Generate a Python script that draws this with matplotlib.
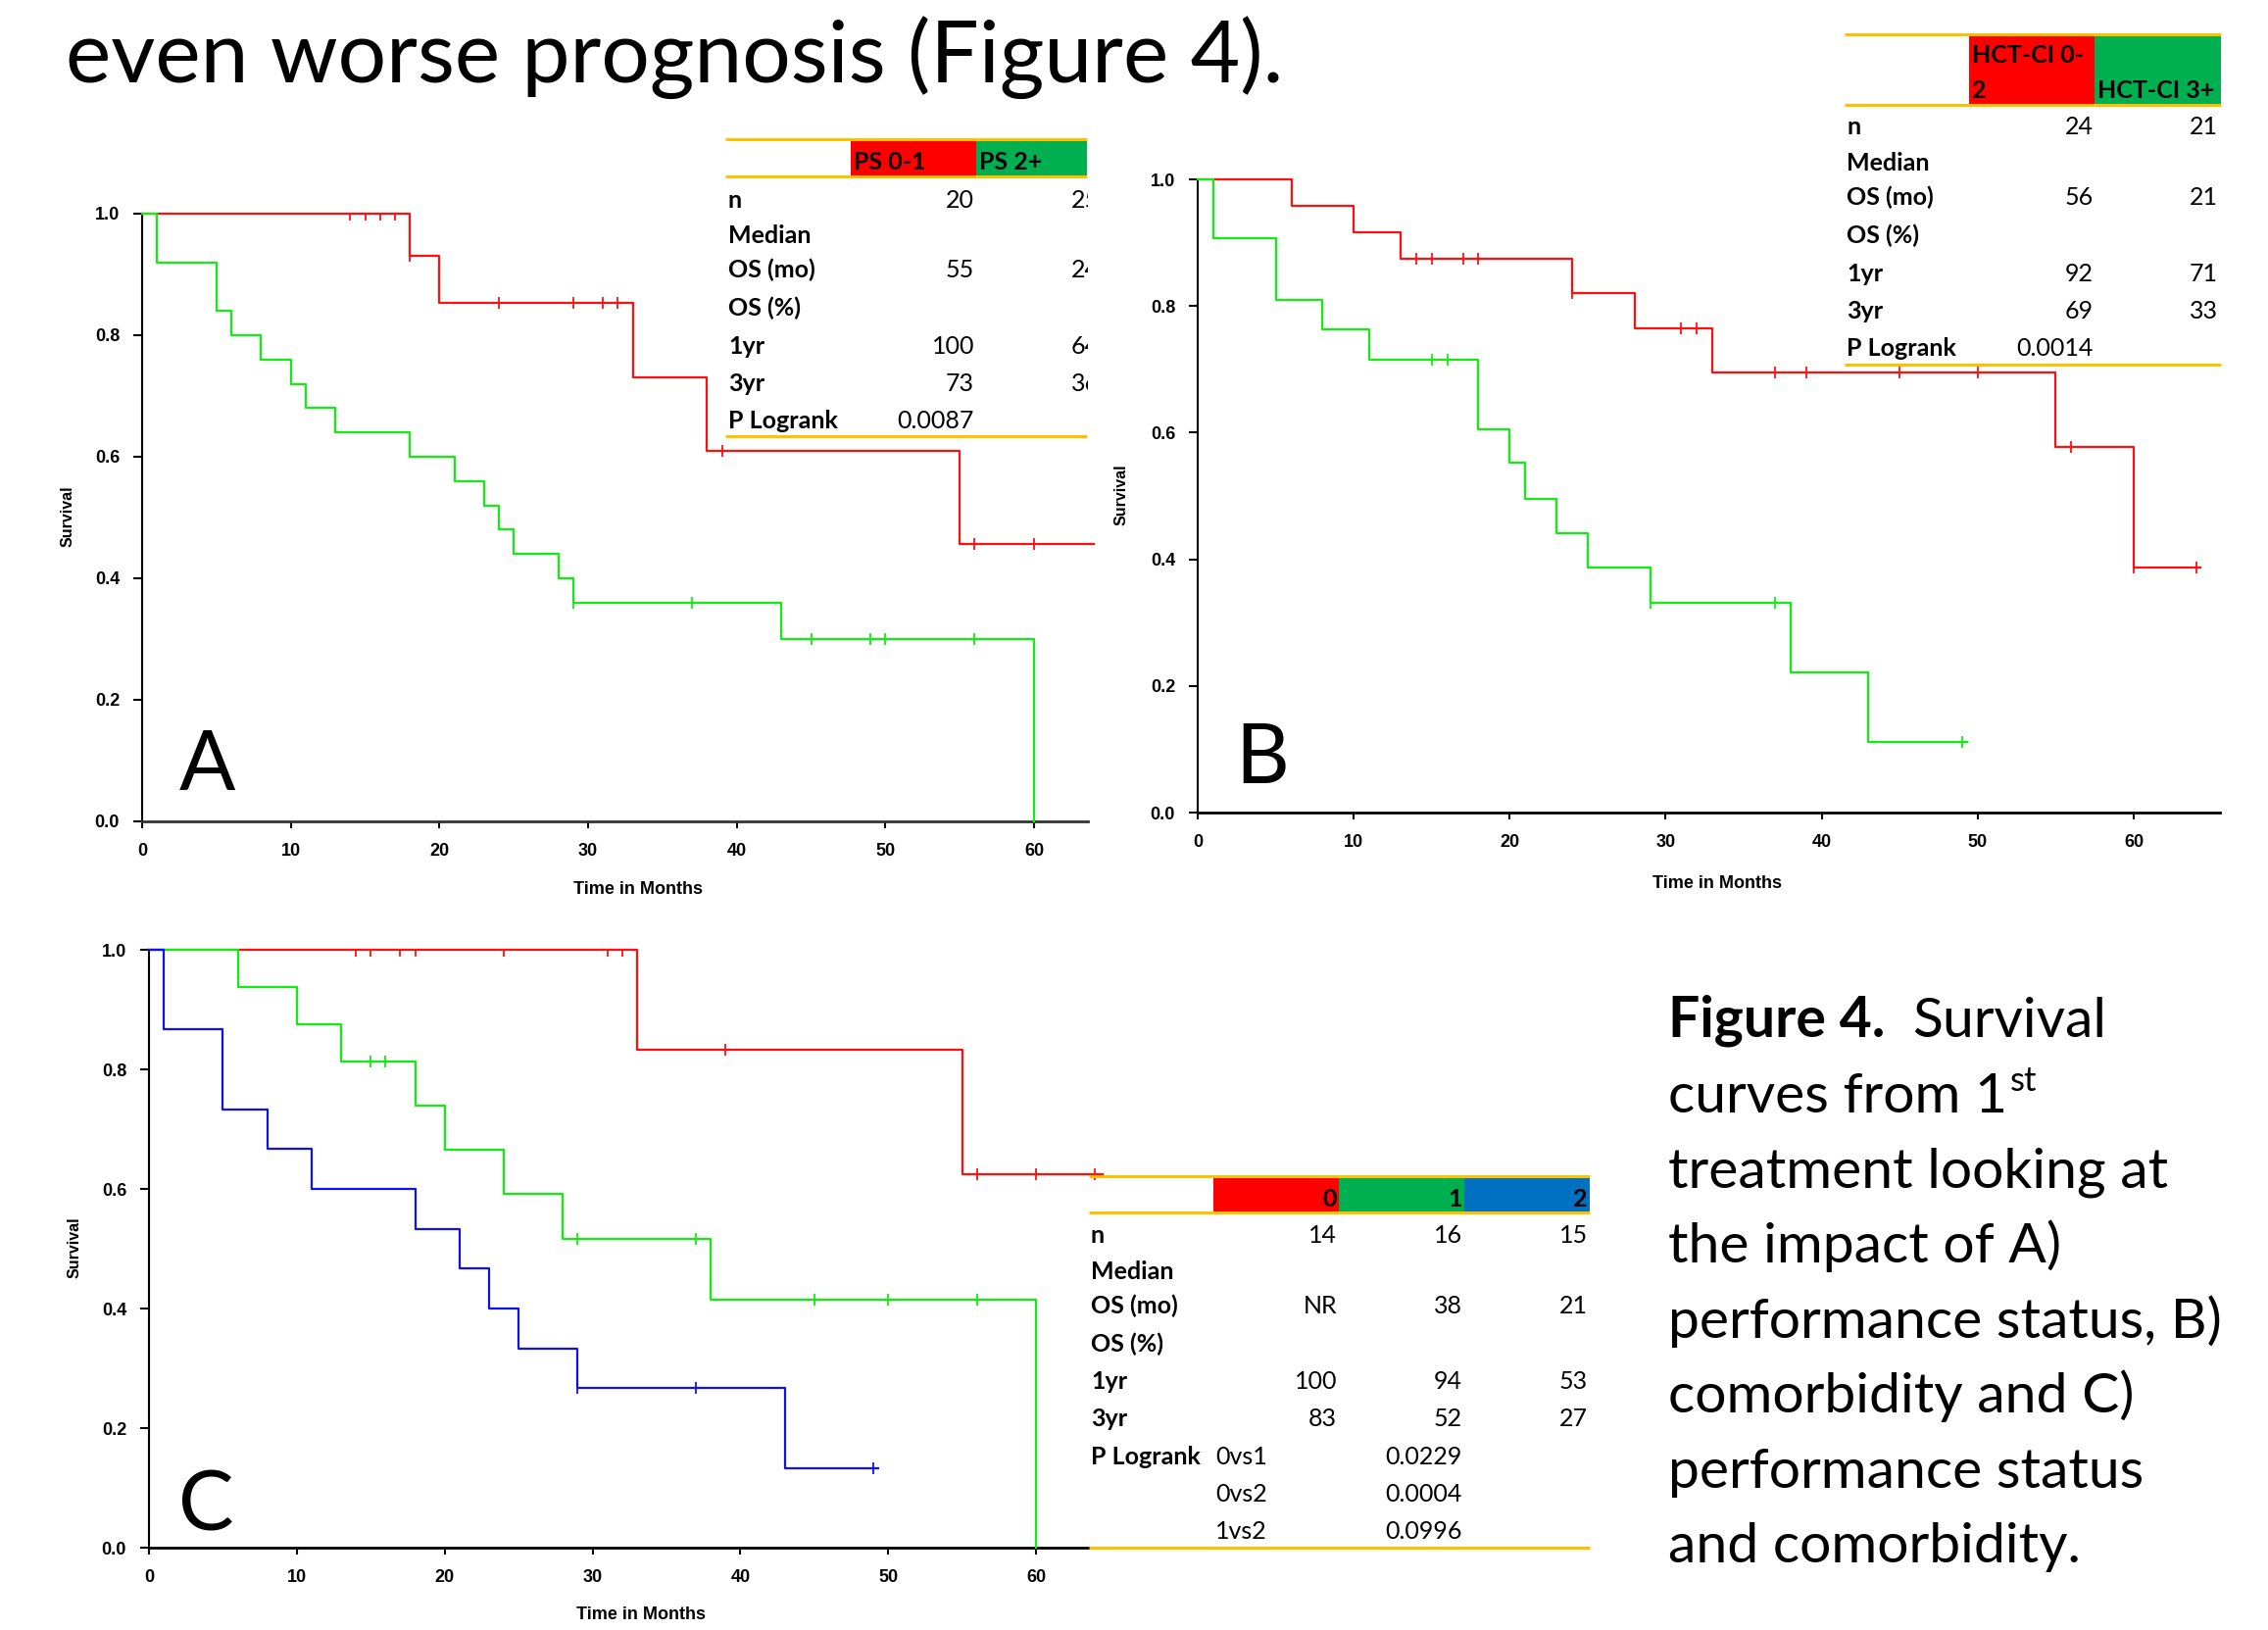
import numpy as np
import matplotlib
matplotlib.use("Agg")
import matplotlib.pyplot as plt
from matplotlib.patches import Rectangle

# ---- data (months, survival fraction) ----
# A: performance status
a_ps01_t = [0, 18, 20, 33, 38, 55]
a_ps01_s = [1.0, 0.93, 0.853, 0.731, 0.609, 0.456]
a_ps01_cens = [14, 15, 16, 17, 18, 24, 29, 31, 32, 39, 56, 60]
a_ps01_end = 64

a_ps2_t = [0, 1, 5, 6, 8, 10, 11, 13, 18, 21, 23, 24, 25, 28, 29, 43, 60]
a_ps2_s = [1.0, 0.92, 0.84, 0.80, 0.76, 0.72, 0.68, 0.64, 0.60, 0.56, 0.52,
           0.48, 0.44, 0.40, 0.36, 0.30, 0.0]
a_ps2_cens = [29, 37, 45, 49, 50, 56]
a_ps2_end = 60

# B: comorbidity
b_hct02_t = [0, 6, 10, 13, 24, 28, 33, 55, 60]
b_hct02_s = [1.0, 0.958, 0.917, 0.875, 0.821, 0.764, 0.695, 0.578, 0.387]
b_hct02_cens = [14, 15, 17, 18, 24, 31, 32, 37, 39, 45, 50, 56, 60, 64]
b_hct02_end = 64.3

b_hct3_t = [0, 1, 5, 8, 11, 18, 20, 21, 23, 25, 29, 38, 43]
b_hct3_s = [1.0, 0.907, 0.810, 0.763, 0.715, 0.605, 0.552, 0.496, 0.441,
            0.387, 0.331, 0.222, 0.112]
b_hct3_cens = [15, 16, 29, 37, 49]
b_hct3_end = 49.3

# C: combined score 0 / 1 / 2
c0_t = [0, 33, 55]
c0_s = [1.0, 0.833, 0.625]
c0_cens = [14, 15, 17, 18, 24, 31, 32, 39, 56, 60, 64]
c0_end = 64.5

c1_t = [0, 6, 10, 13, 18, 20, 24, 28, 38, 60]
c1_s = [1.0, 0.938, 0.875, 0.813, 0.739, 0.665, 0.591, 0.517, 0.415, 0.0]
c1_cens = [15, 16, 29, 37, 45, 50, 56]
c1_end = 60

c2_t = [0, 1, 5, 8, 11, 18, 21, 23, 25, 29, 43]
c2_s = [1.0, 0.867, 0.733, 0.667, 0.600, 0.533, 0.467, 0.400, 0.333, 0.267, 0.133]
c2_cens = [29, 37, 49]
c2_end = 49.3

# tables
row_labels = ["n", "Median", "OS (mo)", "OS (%)", "1yr", "3yr", "P Logrank"]
tabA_head = ["PS 0-1", "PS 2+"]
tabA_col1 = ["20", "", "55", "", "100", "73", "0.0087"]
tabA_col2 = ["25", "", "24", "", "64", "36", ""]
tabB_col1 = ["24", "", "56", "", "92", "69", "0.0014"]
tabB_col2 = ["21", "", "21", "", "71", "33", ""]
tabC_head = ["0", "1", "2"]
tabC_vals = [["14", "16", "15"], ["", "", ""], ["NR", "38", "21"], ["", "", ""],
             ["100", "94", "53"], ["83", "52", "27"]]
tabC_pairs = ["0vs1", "0vs2", "1vs2"]
tabC_p = ["0.0229", "0.0004", "0.0996"]

RED = "#ff1010"
GRN = "#10ee10"
BLU = "#1010ee"
T_RED = "#ff0000"
T_GRN = "#00b050"
T_BLU = "#0070c0"
YEL = "#ffc000"

W, H = 2314, 1663
fig = plt.figure(figsize=(W / 100, H / 100), dpi=100)


def panel(x0, x60, y1, y0, xmax, xcol="black"):
    ppm = (x60 - x0) / 60.0
    xr = x0 + xmax * ppm
    ax = fig.add_axes([x0 / W, 1 - y0 / H, (xr - x0) / W, (y0 - y1) / H])
    ax.set_xlim(0, xmax)
    ax.set_ylim(0, 1)
    ax.patch.set_visible(False)
    for sp in ["top", "right"]:
        ax.spines[sp].set_visible(False)
    ax.spines["left"].set_linewidth(1.5)
    ax.spines["bottom"].set_linewidth(2.0)
    ax.spines["bottom"].set_color(xcol)
    ax.set_xticks(range(0, 61, 10))
    ax.set_yticks([0, 0.2, 0.4, 0.6, 0.8, 1.0])
    ax.set_yticklabels(["0.0", "0.2", "0.4", "0.6", "0.8", "1.0"])
    ax.tick_params(axis="x", direction="out", length=5, width=1.5, pad=11)
    ax.tick_params(axis="y", direction="out", length=6.5, width=1.5, pad=10)
    for lab in ax.get_xticklabels() + ax.get_yticklabels():
        lab.set_fontproperties(matplotlib.font_manager.FontProperties(
            family="Liberation Sans", weight="bold", size=13))
    return ax


def km(ax, t, s, end, cens, color):
    tt = list(t) + [end]
    ss = list(s) + [s[-1]]
    ax.step(tt, ss, where="post", color=color, lw=1.6, clip_on=False, zorder=3)
    t_arr = np.array(t)
    cy = [s[np.searchsorted(t_arr, c, side="right") - 1] for c in cens]
    top = [(c, y) for c, y in zip(cens, cy) if y >= 0.999]
    mid = [(c, y) for c, y in zip(cens, cy) if y < 0.999]
    if mid:
        ax.plot([p[0] for p in mid], [p[1] for p in mid], ls="none", marker="|",
                ms=9, mew=1.3, color=color, clip_on=False, zorder=4)
    if top:
        ax.plot([p[0] for p in top], [p[1] for p in top], ls="none", marker=3,
                ms=5, mew=1.3, color=color, clip_on=False, zorder=4)


axA = panel(145, 1055, 218, 838, 63.6, xcol="#333333")
km(axA, a_ps01_t, a_ps01_s, a_ps01_end, a_ps01_cens, RED)
km(axA, a_ps2_t, a_ps2_s, a_ps2_end, a_ps2_cens, GRN)

axB = panel(1222, 2177, 183, 829, 65.5)
km(axB, b_hct02_t, b_hct02_s, b_hct02_end, b_hct02_cens, RED)
km(axB, b_hct3_t, b_hct3_s, b_hct3_end, b_hct3_cens, GRN)

axC = panel(152, 1057, 969, 1579, 63.6)
km(axC, c0_t, c0_s, c0_end, c0_cens, RED)
km(axC, c1_t, c1_s, c1_end, c1_cens, GRN)
km(axC, c2_t, c2_s, c2_end, c2_cens, BLU)

# overlay in pixel coordinates (y measured from the top)
ov = fig.add_axes([0, 0, 1, 1])
ov.set_xlim(0, W)
ov.set_ylim(0, H)
ov.axis("off")


def Y(y):
    return H - y


LATO = ["Lato", "DejaVu Sans"]
AX_LAB = ["Liberation Sans", "DejaVu Sans"]

# axis titles
for (sx, sy), (tx, ty) in [((69, 527), (651, 908)), ((1144, 505), (1752, 902)),
                           ((76, 1273), (654, 1647))]:
    ov.text(sx, Y(sy), "Survival", rotation=90, ha="center", va="center",
            family=AX_LAB, fontweight="bold", fontsize=11.5)
    ov.text(tx, Y(ty), "Time in Months", ha="center", va="center",
            family=AX_LAB, fontweight="bold", fontsize=13)

# panel letters
for lx, ly, lt in [(211, 782, "A"), (1288, 775, "B"), (210, 1538, "C")]:
    ov.text(lx, Y(ly), lt, ha="center", va="center", family=LATO, fontsize=61)

# title
ov.text(67, Y(84), "even worse prognosis (Figure 4).", ha="left", va="baseline",
        family=LATO, fontsize=63)

TS = 18


def hline(x0, x1, y):
    ov.plot([x0, x1], [Y(y), Y(y)], color=YEL, lw=2.2, solid_capstyle="butt", zorder=5)


def band(x0, x1, y0, y1, c, z=4):
    ov.add_patch(Rectangle((x0, Y(y1)), x1 - x0, y1 - y0, facecolor=c, lw=0, zorder=z))


def txt(x, y, s, ha="left", bold=False):
    return ov.text(x, Y(y), s, ha=ha, va="baseline", family=LATO, fontsize=TS,
                   fontweight="bold" if bold else "normal", zorder=6)


# ---- table A (its right column is cut off by the slide edge of the panel) ----
band(868, 996, 142, 180, T_RED)
band(996, 1109, 142, 180, T_GRN)
hline(740, 1109, 142)
hline(740, 1109, 180)
hline(740, 1109, 445)
txt(871, 173, tabA_head[0], bold=True)
txt(999, 173, tabA_head[1], bold=True)
rowsA = [212, 248, 283, 322, 361, 399, 437]
for i, lab in enumerate(row_labels):
    txt(743, rowsA[i], lab, bold=True)
    if tabA_col1[i]:
        txt(994, rowsA[i], tabA_col1[i], ha="right")
    if tabA_col2[i]:
        txt(1122, rowsA[i], tabA_col2[i], ha="right")
# white mask hiding the cut-off part of the last column
band(1110, 1140, 190, 450, "white", z=7)

# ---- table B ----
band(2009, 2137, 35, 107, T_RED)
band(2137, 2266, 35, 107, T_GRN)
hline(1882, 2266, 35)
hline(1882, 2266, 107)
hline(1882, 2266, 372)
txt(2012, 64, "HCT-CI 0-", bold=True)
txt(2012, 100, "2", bold=True)
txt(2140, 100, "HCT-CI 3+", bold=True)
rowsB = [137, 174, 209, 248, 287, 325, 363]
for i, lab in enumerate(row_labels):
    txt(1884, rowsB[i], lab, bold=True)
    if tabB_col1[i]:
        txt(2136, rowsB[i], tabB_col1[i], ha="right")
    if tabB_col2[i]:
        txt(2263, rowsB[i], tabB_col2[i], ha="right")

# ---- table C ----
cx = [1238, 1366, 1494, 1622]
for k, c in enumerate([T_RED, T_GRN, T_BLU]):
    band(cx[k], cx[k + 1], 1200, 1237, c)
hline(1111, 1622, 1200)
hline(1111, 1622, 1237)
hline(1111, 1622, 1579)
for k, h in enumerate(tabC_head):
    txt(cx[k + 1] - 2, 1231, h, ha="right", bold=True)
rowsC = [1268, 1305, 1340, 1379, 1417, 1455, 1494, 1532, 1570]
for i in range(6):
    txt(1113, rowsC[i], row_labels[i], bold=True)
    for k in range(3):
        if tabC_vals[i][k]:
            txt(cx[k + 1] - 2, rowsC[i], tabC_vals[i][k], ha="right")
txt(1113, rowsC[6], "P Logrank", bold=True)
for j in range(3):
    txt(1240, rowsC[6 + j], tabC_pairs[j])
    txt(cx[2] - 2, rowsC[6 + j], tabC_p[j], ha="right")

# ---- caption ----
CS = 41
renderer = fig.canvas.get_renderer()
cap_x = 1702
t1 = ov.text(cap_x, Y(1058), "Figure 4.", ha="left", va="baseline", family=LATO,
             fontsize=CS, fontweight="bold")
x1 = t1.get_window_extent(renderer).x1
ov.text(x1 + 28, Y(1058), "Survival", ha="left", va="baseline", family=LATO, fontsize=CS)
t2 = ov.text(cap_x, Y(1135), "curves from 1", ha="left", va="baseline", family=LATO,
             fontsize=CS)
x_end = t2.get_window_extent(renderer).x1
ov.text(x_end + 3, Y(1113), "st", ha="left", va="baseline", family=LATO, fontsize=25)
cap_lines = ["treatment looking at", "the impact of A)", "performance status, B)",
             "comorbidity and C)", "performance status", "and comorbidity."]
cap_base = [1212, 1288, 1365, 1441, 1518, 1594]
for s, b in zip(cap_lines, cap_base):
    ov.text(cap_x, Y(b), s, ha="left", va="baseline", family=LATO, fontsize=CS)

fig.savefig("out.png", dpi=100)
